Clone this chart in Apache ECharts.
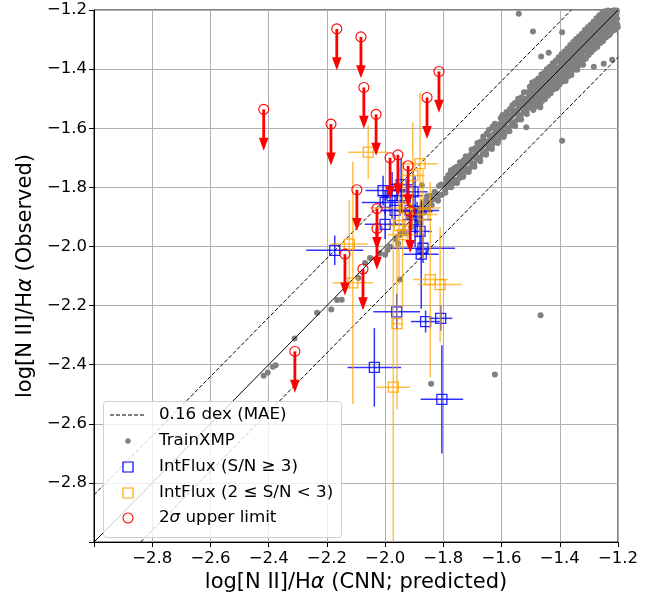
<!DOCTYPE html>
<html>
<head>
<meta charset="utf-8">
<script src="https://cdn.jsdelivr.net/npm/echarts@6/dist/echarts.min.js"></script>
<style>
html,body{margin:0;padding:0;background:#fff;}
#chart{width:661px;height:598px;}
</style>
</head>
<body>
<div id="chart"></div>
<script>
// ---------------- data ----------------
const tickValues = [-2.8, -2.6, -2.4, -2.2, -2.0, -1.8, -1.6, -1.4, -1.2];
const mae = 0.16;
const arrowLen = 0.14;

// TrainXMP points [x, y]
const trainXMP = [
 [-1.500,-1.520],[-1.497,-1.478],[-1.494,-1.505],[-1.490,-1.466],[-1.488,-1.530],[-1.485,-1.492],[-1.482,-1.455],[-1.480,-1.510],
 [-1.478,-1.470],[-1.475,-1.498],[-1.472,-1.441],[-1.470,-1.485],[-1.467,-1.520],[-1.465,-1.452],[-1.462,-1.475],[-1.460,-1.500],
 [-1.458,-1.430],[-1.455,-1.468],[-1.452,-1.490],[-1.450,-1.445],[-1.447,-1.415],[-1.445,-1.476],[-1.442,-1.452],[-1.440,-1.428],
 [-1.438,-1.466],[-1.436,-1.404],[-1.433,-1.440],[-1.430,-1.470],[-1.428,-1.418],[-1.425,-1.395],[-1.423,-1.452],[-1.420,-1.430],
 [-1.418,-1.385],[-1.415,-1.440],[-1.413,-1.412],[-1.410,-1.460],[-1.408,-1.398],[-1.405,-1.372],[-1.403,-1.425],[-1.400,-1.445],
 [-1.398,-1.405],[-1.395,-1.365],[-1.392,-1.388],[-1.390,-1.430],[-1.387,-1.352],[-1.385,-1.410],[-1.382,-1.378],[-1.380,-1.440],
 [-1.378,-1.392],[-1.375,-1.348],[-1.373,-1.370],[-1.370,-1.412],[-1.368,-1.335],[-1.365,-1.388],[-1.362,-1.360],[-1.360,-1.420],
 [-1.358,-1.372],[-1.355,-1.330],[-1.352,-1.395],[-1.350,-1.352],[-1.347,-1.318],[-1.345,-1.368],[-1.342,-1.340],[-1.340,-1.402],
 [-1.338,-1.355],[-1.335,-1.310],[-1.332,-1.378],[-1.330,-1.330],[-1.327,-1.298],[-1.325,-1.348],[-1.322,-1.322],[-1.320,-1.385],
 [-1.318,-1.300],[-1.315,-1.338],[-1.312,-1.285],[-1.310,-1.360],[-1.307,-1.318],[-1.305,-1.275],[-1.302,-1.330],[-1.300,-1.298],
 [-1.298,-1.345],[-1.295,-1.268],[-1.292,-1.312],[-1.290,-1.290],[-1.287,-1.255],[-1.285,-1.322],[-1.282,-1.278],[-1.280,-1.300],
 [-1.278,-1.250],[-1.275,-1.318],[-1.272,-1.265],[-1.270,-1.292],[-1.267,-1.240],[-1.265,-1.305],[-1.262,-1.270],[-1.260,-1.252],
 [-1.258,-1.285],[-1.255,-1.230],[-1.252,-1.262],[-1.250,-1.300],[-1.247,-1.245],[-1.245,-1.222],[-1.242,-1.272],[-1.240,-1.250],
 [-1.238,-1.228],[-1.235,-1.262],[-1.232,-1.212],[-1.230,-1.240],[-1.227,-1.280],[-1.225,-1.225],[-1.222,-1.205],[-1.220,-1.255],
 [-1.218,-1.232],[-1.215,-1.210],[-1.212,-1.268],[-1.210,-1.222],[-1.207,-1.245],[-1.205,-1.208],[-1.203,-1.230],[-1.201,-1.258],
 [-1.496,-1.492],[-1.486,-1.478],[-1.476,-1.482],[-1.466,-1.470],[-1.456,-1.450],[-1.446,-1.458],[-1.436,-1.430],[-1.426,-1.432],
 [-1.416,-1.420],[-1.406,-1.410],[-1.396,-1.388],[-1.386,-1.392],[-1.376,-1.372],[-1.366,-1.374],[-1.356,-1.350],[-1.346,-1.352],
 [-1.336,-1.330],[-1.326,-1.334],[-1.316,-1.312],[-1.306,-1.310],[-1.296,-1.288],[-1.286,-1.292],[-1.276,-1.272],[-1.266,-1.274],
 [-1.256,-1.250],[-1.246,-1.254],[-1.236,-1.232],[-1.226,-1.234],[-1.216,-1.212],[-1.206,-1.214],
 [-1.493,-1.510],[-1.473,-1.458],[-1.453,-1.470],[-1.433,-1.415],[-1.413,-1.428],[-1.393,-1.375],[-1.373,-1.388],[-1.353,-1.338],
 [-1.333,-1.346],[-1.313,-1.298],[-1.293,-1.305],[-1.273,-1.258],[-1.253,-1.268],[-1.233,-1.220],[-1.213,-1.225],
 [-1.499,-1.462],[-1.479,-1.445],[-1.459,-1.488],[-1.439,-1.410],[-1.419,-1.450],[-1.399,-1.368],[-1.379,-1.408],[-1.359,-1.332],
 [-1.339,-1.368],[-1.319,-1.290],[-1.299,-1.322],[-1.279,-1.260],[-1.259,-1.288],[-1.239,-1.215],[-1.219,-1.240],
 [-1.495,-1.445],[-1.491,-1.538],[-1.484,-1.440],[-1.481,-1.525],[-1.474,-1.432],[-1.471,-1.515],[-1.463,-1.418],[-1.461,-1.508],
 [-1.454,-1.412],[-1.451,-1.502],[-1.444,-1.400],[-1.441,-1.490],[-1.434,-1.392],[-1.431,-1.482],[-1.424,-1.380],[-1.421,-1.468],
 [-1.414,-1.372],[-1.411,-1.465],[-1.404,-1.360],[-1.401,-1.452],[-1.394,-1.350],[-1.391,-1.442],[-1.384,-1.340],[-1.381,-1.432],
 [-1.374,-1.330],[-1.371,-1.425],[-1.364,-1.318],[-1.361,-1.410],[-1.354,-1.308],[-1.351,-1.402],[-1.344,-1.298],[-1.341,-1.392],
 [-1.334,-1.290],[-1.331,-1.385],[-1.324,-1.280],[-1.321,-1.372],[-1.314,-1.268],[-1.311,-1.365],[-1.304,-1.258],[-1.301,-1.352],
 [-1.294,-1.250],[-1.291,-1.342],[-1.284,-1.240],[-1.281,-1.332],[-1.274,-1.228],[-1.271,-1.325],[-1.264,-1.218],[-1.261,-1.312],
 [-1.254,-1.210],[-1.251,-1.305],[-1.244,-1.204],[-1.241,-1.292],[-1.234,-1.202],[-1.231,-1.285],[-1.224,-1.203],[-1.221,-1.272],
 [-1.214,-1.201],[-1.211,-1.262],[-1.204,-1.202],[-1.202,-1.250],
 [-1.498,-1.475],[-1.489,-1.500],[-1.478,-1.460],[-1.468,-1.492],[-1.457,-1.440],[-1.448,-1.485],[-1.437,-1.420],[-1.428,-1.460],
 [-1.417,-1.402],[-1.409,-1.440],[-1.397,-1.380],[-1.388,-1.420],[-1.377,-1.360],[-1.369,-1.398],[-1.357,-1.340],[-1.349,-1.380],
 [-1.337,-1.320],[-1.329,-1.360],[-1.317,-1.300],[-1.309,-1.340],[-1.297,-1.280],[-1.289,-1.320],[-1.277,-1.262],[-1.269,-1.300],
 [-1.257,-1.240],[-1.249,-1.282],[-1.237,-1.222],[-1.229,-1.262],[-1.217,-1.204],[-1.209,-1.240],
 [-1.502,-1.488],[-1.505,-1.530],[-1.508,-1.512],[-1.511,-1.478],[-1.514,-1.540],[-1.517,-1.505],[-1.519,-1.525],
 [-1.522,-1.500],[-1.525,-1.545],[-1.528,-1.520],[-1.531,-1.495],[-1.534,-1.558],[-1.537,-1.530],[-1.539,-1.512],
 [-1.542,-1.555],[-1.545,-1.520],[-1.548,-1.572],[-1.551,-1.540],[-1.554,-1.515],[-1.557,-1.580],[-1.559,-1.552],
 [-1.562,-1.540],[-1.565,-1.590],[-1.568,-1.562],[-1.571,-1.535],[-1.574,-1.575],[-1.577,-1.600],[-1.579,-1.555],
 [-1.582,-1.610],[-1.585,-1.568],[-1.588,-1.590],[-1.591,-1.622],[-1.594,-1.578],[-1.597,-1.555],[-1.599,-1.605],
 [-1.602,-1.625],[-1.605,-1.585],[-1.608,-1.612],[-1.611,-1.640],[-1.614,-1.598],[-1.617,-1.620],
 [-1.622,-1.605],[-1.625,-1.648],[-1.628,-1.622],[-1.631,-1.595],[-1.634,-1.660],[-1.637,-1.640],
 [-1.642,-1.625],[-1.645,-1.668],[-1.648,-1.645],[-1.651,-1.618],[-1.654,-1.680],[-1.657,-1.655],
 [-1.662,-1.640],[-1.665,-1.688],[-1.668,-1.668],[-1.671,-1.645],[-1.674,-1.700],[-1.677,-1.672],
 [-1.682,-1.662],[-1.685,-1.705],[-1.688,-1.690],[-1.691,-1.668],[-1.694,-1.720],[-1.697,-1.695],
 [-1.702,-1.718],[-1.706,-1.690],[-1.710,-1.735],[-1.714,-1.712],[-1.718,-1.700],
 [-1.722,-1.745],[-1.726,-1.722],[-1.730,-1.708],[-1.734,-1.755],[-1.738,-1.735],
 [-1.742,-1.728],[-1.746,-1.770],[-1.750,-1.748],[-1.754,-1.730],[-1.758,-1.775],
 [-1.762,-1.752],[-1.766,-1.785],[-1.770,-1.760],[-1.774,-1.742],[-1.778,-1.792],
 [-1.782,-1.775],[-1.786,-1.800],[-1.790,-1.770],[-1.794,-1.812],[-1.798,-1.790],
 [-1.503,-1.460],[-1.513,-1.552],[-1.523,-1.478],[-1.533,-1.570],[-1.543,-1.500],[-1.553,-1.592],[-1.563,-1.522],[-1.573,-1.610],
 [-1.583,-1.545],[-1.593,-1.630],[-1.603,-1.565],[-1.613,-1.650],[-1.623,-1.585],[-1.633,-1.670],[-1.643,-1.605],[-1.653,-1.690],
 [-1.663,-1.628],[-1.673,-1.712],[-1.683,-1.650],[-1.693,-1.730],[-1.703,-1.672],[-1.713,-1.748],[-1.723,-1.695],[-1.733,-1.765],
 [-1.743,-1.715],[-1.753,-1.785],[-1.763,-1.735],[-1.773,-1.800],[-1.783,-1.758],[-1.793,-1.818],
 [-1.507,-1.495],[-1.517,-1.535],[-1.527,-1.505],[-1.547,-1.540],[-1.567,-1.555],[-1.587,-1.575],[-1.607,-1.600],[-1.627,-1.632],
 [-1.647,-1.650],[-1.667,-1.660],[-1.687,-1.680],[-1.707,-1.705],[-1.727,-1.730],[-1.747,-1.752],[-1.767,-1.770],[-1.787,-1.785],
 [-1.808,-1.790],[-1.818,-1.845],[-1.826,-1.820],[-1.835,-1.840],[-1.848,-1.850],[-1.856,-1.830],[-1.863,-1.872],[-1.871,-1.858],
 [-1.884,-1.895],[-1.895,-1.880],
 [-1.805,-1.825],[-1.811,-1.827],[-1.815,-1.795],[-1.822,-1.840],[-1.830,-1.815],[-1.840,-1.860],[-1.845,-1.828],[-1.852,-1.870],
 [-1.860,-1.845],[-1.866,-1.885],[-1.874,-1.793],[-1.880,-1.870],[-1.890,-1.915],[-1.900,-1.892],[-1.910,-1.935],[-1.920,-1.900],
 [-1.930,-1.955],[-1.937,-1.950],[-1.949,-1.961],[-1.955,-1.990],[-1.965,-1.975],[-1.983,-2.000],[-1.992,-2.012],[-2.000,-2.028],
 [-2.018,-2.023],[-2.052,-2.039],[-2.069,-2.056],[-2.092,-2.107],[-2.149,-2.180],[-2.165,-2.181],[-2.185,-2.213],[-2.234,-2.224],
 [-2.311,-2.311],[-2.376,-2.402],[-2.386,-2.407],[-2.403,-2.426],[-2.417,-2.437],[-1.949,-2.112],
 [-1.541,-1.213],[-1.492,-1.273],[-1.392,-1.275],[-1.392,-1.642],[-1.466,-2.233],[-1.623,-2.433],[-1.842,-2.464],[-1.464,-1.357],
 [-1.438,-1.345],[-1.515,-1.597],[-1.467,-1.529],[-1.220,-1.368],[-1.249,-1.382],[-1.283,-1.392],[-1.335,-1.385],[-1.731,-1.760]
];

// IntFlux (S/N >= 3)
const blueX    = [-2.173,-1.960,-1.861,-1.809,-2.037,-1.805,-1.876,-1.870,-2.007,-2.000,-2.000,-1.976,-1.945,-1.942,-1.914,-1.904,-1.897,-1.890,-1.880,-1.966];
const blueY    = [-2.013,-2.221,-2.254,-2.243,-2.409,-2.517,-2.026,-2.006,-1.811,-1.851,-1.925,-1.828,-1.791,-1.828,-1.878,-1.815,-1.882,-1.909,-1.949,-1.878];
const blueXerr = [ 0.098, 0.080, 0.050, 0.040, 0.092, 0.073, 0.060, 0.110, 0.060, 0.080, 0.070, 0.050, 0.040, 0.070, 0.100, 0.050, 0.060, 0.050, 0.040, 0.050];
const blueYerr = [ 0.050, 0.060, 0.037, 0.042, 0.133, 0.183, 0.185, 0.050, 0.050, 0.040, 0.050, 0.080, 0.090, 0.060, 0.050, 0.070, 0.120, 0.060, 0.080, 0.050];

// IntFlux (2 <= S/N < 3)
const orangeX    = [-2.058,-1.880,-2.123,-2.111,-1.845,-1.811,-1.959,-1.972,-1.952,-1.870,-1.930,-1.940,-1.905];
const orangeY    = [-1.681,-1.720,-1.992,-2.123,-2.112,-2.129,-2.261,-2.476,-1.929,-1.892,-1.870,-1.960,-1.760];
const orangeXerr = [ 0.069, 0.060, 0.063, 0.069, 0.060, 0.075, 0.020, 0.058, 0.040, 0.050, 0.120, 0.050, 0.040];
const orangeYerr = [ 0.090, 0.240, 0.148, 0.410, 0.330, 0.195, 0.290, 0.600, 0.200, 0.150, 0.100, 0.250, 0.180];

// 2 sigma upper limits
const limX = [-2.417,-2.166,-2.083,-2.186,-2.073,-2.031,-1.815,-1.856,-2.097,-1.983,-1.956,-1.921,-2.028,-2.028,-1.914,-2.138,-2.076,-2.310];
const limY = [-1.536,-1.264,-1.291,-1.586,-1.462,-1.553,-1.408,-1.496,-1.808,-1.700,-1.690,-1.727,-1.872,-1.939,-1.882,-2.026,-2.076,-2.355];

// ---------------- chart ----------------
const FONT = 'DejaVu Sans';
const chart = echarts.init(document.getElementById('chart'), null, {renderer: 'canvas'});

function errRender(color, barOpacity) {
  return function (params, api) {
    const x = api.value(0), y = api.value(1), xe = api.value(2), ye = api.value(3);
    const c = api.coord([x, y]);
    const l = api.coord([x - xe, y]);
    const r = api.coord([x + xe, y]);
    const t = api.coord([x, y + ye]);
    const b = api.coord([x, y - ye]);
    const s = 5;
    return {
      type: 'group',
      children: [
        {type: 'line', shape: {x1: l[0], y1: c[1], x2: r[0], y2: c[1]}, style: {stroke: color, lineWidth: 1.5, opacity: barOpacity}},
        {type: 'line', shape: {x1: c[0], y1: t[1], x2: c[0], y2: b[1]}, style: {stroke: color, lineWidth: 1.5, opacity: barOpacity}},
        {type: 'rect', shape: {x: c[0] - s, y: c[1] - s, width: 2 * s, height: 2 * s}, style: {fill: 'none', stroke: color, lineWidth: 1.3, opacity: 0.85}}
      ]
    };
  };
}

function limRender(params, api) {
  const x = api.value(0), y = api.value(1);
  const c = api.coord([x, y]);
  const tip = api.coord([x, y - arrowLen]);
  const hh = 13, hw = 4.8;
  return {
    type: 'group',
    children: [
      {type: 'line', shape: {x1: c[0], y1: c[1], x2: c[0], y2: tip[1] - hh + 1}, style: {stroke: '#ff0000', lineWidth: 2.8}},
      {type: 'polygon', shape: {points: [[c[0] - hw, tip[1] - hh], [c[0] + hw, tip[1] - hh], [c[0], tip[1]]]}, style: {fill: '#ff0000'}},
      {type: 'circle', shape: {cx: c[0], cy: c[1], r: 5}, style: {fill: 'none', stroke: '#ff0000', lineWidth: 1.1}}
    ]
  };
}

const blueData = blueX.map((v, i) => [v, blueY[i], blueXerr[i], blueYerr[i]]);
const orangeData = orangeX.map((v, i) => [v, orangeY[i], orangeXerr[i], orangeYerr[i]]);
const limData = limX.map((v, i) => [v, limY[i]]);

const fmt = v => {
  if (Math.abs(v + 3) < 1e-6) return '';
  return v.toFixed(1).replace('-', '\u2212');
};

const axisCommon = {
  type: 'value', min: -3.0, max: -1.2, interval: 0.2,
  axisLine: {show: true, onZero: false, lineStyle: {color: '#000', width: 1}},
  axisTick: {show: true, inside: false, length: 5, lineStyle: {color: '#000', width: 1}},
  splitLine: {show: true, lineStyle: {color: '#b0b0b0', width: 1}},
  axisLabel: {formatter: fmt, color: '#000', fontFamily: FONT, fontSize: 16.5, showMinLabel: true, showMaxLabel: true},
  nameLocation: 'middle',
  nameTextStyle: {color: '#000', fontFamily: FONT, fontSize: 21, rich: {it: {fontStyle: 'italic', fontFamily: FONT, fontSize: 21}}}
};

// legend (drawn as graphics)
const LX = 103, LY = 401, LW = 238, LH = 136;
const rowY = [415, 441, 467, 493, 518];
const textX = 159;
const mk = 128;
const legendGraphics = [
  {type: 'rect', left: LX, top: LY, z: 100, shape: {width: LW, height: LH, r: 3}, style: {fill: 'rgba(255,255,255,0.8)', stroke: '#d0d0d0', lineWidth: 1}},
  {type: 'line', z: 101, shape: {x1: 110, y1: rowY[0], x2: 145, y2: rowY[0]}, style: {stroke: '#000', lineWidth: 1, lineDash: [4, 2]}},
  {type: 'circle', z: 101, shape: {cx: mk, cy: rowY[1], r: 2.7}, style: {fill: '#808080'}},
  {type: 'rect', z: 101, shape: {x: mk - 5, y: rowY[2] - 5, width: 10, height: 10}, style: {fill: 'none', stroke: '#0000ff', lineWidth: 1.2}},
  {type: 'rect', z: 101, shape: {x: mk - 5, y: rowY[3] - 5, width: 10, height: 10}, style: {fill: 'none', stroke: '#ffa500', lineWidth: 1.2}},
  {type: 'circle', z: 101, shape: {cx: mk, cy: rowY[4], r: 5}, style: {fill: 'none', stroke: '#ff0000', lineWidth: 1.1}}
];
const legendTexts = ['0.16 dex (MAE)', 'TrainXMP', 'IntFlux (S/N \u2265 3)', 'IntFlux (2 \u2264 S/N < 3)', '2{it|\u03c3} upper limit'];
legendTexts.forEach((t, i) => {
  legendGraphics.push({
    type: 'text', z: 101, x: textX, y: rowY[i],
    style: {text: t, fill: '#000', font: '16.7px "' + FONT + '"', fontFamily: FONT, fontSize: 16.7, verticalAlign: 'middle', align: 'left',
            rich: {it: {fontStyle: 'italic', fontFamily: FONT, fontSize: 16.7}}}
  });
});

const option = {
  animation: false,
  backgroundColor: '#fff',
  grid: {left: 94, top: 10, width: 524, height: 536, show: true, borderColor: '#000', borderWidth: 1, containLabel: false},
  xAxis: Object.assign({}, axisCommon, {
    name: 'log[N II]/H{it|\u03b1} (CNN; predicted)', nameGap: 22,
    axisLabel: Object.assign({}, axisCommon.axisLabel, {margin: 8})
  }),
  yAxis: Object.assign({}, axisCommon, {
    name: 'log[N II]/H{it|\u03b1} (Observed)', nameGap: 38,
    axisLabel: Object.assign({}, axisCommon.axisLabel, {margin: 7})
  }),
  graphic: legendGraphics,
  series: [
    {type: 'scatter', name: 'TrainXMP', data: trainXMP, symbol: 'circle', symbolSize: 6,
     itemStyle: {color: '#808080', opacity: 1}, z: 2, silent: true},
    {type: 'line', data: [[-3.0, -3.0], [-1.2, -1.2]], symbol: 'none', z: 3, silent: true,
     lineStyle: {color: '#000', width: 1}},
    {type: 'line', data: [[-3.0, -3.0 + mae], [-1.2 - mae, -1.2]], symbol: 'none', z: 3, silent: true,
     lineStyle: {color: '#000', width: 1, type: [4, 2]}},
    {type: 'line', data: [[-3.0 + mae, -3.0], [-1.2, -1.2 - mae]], symbol: 'none', z: 3, silent: true,
     lineStyle: {color: '#000', width: 1, type: [4, 2]}},
    {type: 'custom', name: 'blue', data: blueData, renderItem: errRender('#0000ff', 0.8), clip: true, z: 4,
     encode: {x: 0, y: 1}, silent: true},
    {type: 'custom', name: 'orange', data: orangeData, renderItem: errRender('#ffa500', 0.7), clip: true, z: 5,
     encode: {x: 0, y: 1}, silent: true},
    {type: 'custom', name: 'limits', data: limData, renderItem: limRender, clip: true, z: 6,
     encode: {x: 0, y: 1}, silent: true}
  ]
};
chart.setOption(option);
</script>
</body>
</html>
